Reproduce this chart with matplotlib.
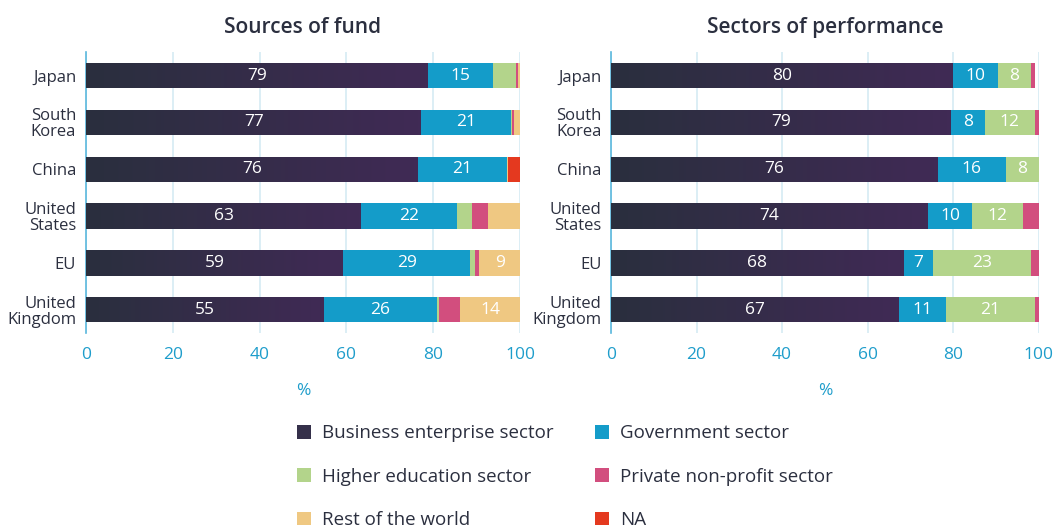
import numpy as np
import matplotlib
matplotlib.use('Agg')
import matplotlib.pyplot as plt
from matplotlib.colors import LinearSegmentedColormap
from matplotlib.patches import Patch

plt.rcParams['font.family'] = ['Open Sans', 'DejaVu Sans']

countries = ['Japan', 'South\nKorea', 'China', 'United\nStates', 'EU', 'United\nKingdom']
sectors = ['Business enterprise sector', 'Government sector', 'Higher education sector',
           'Private non-profit sector', 'Rest of the world', 'NA']

# sources of fund (%)
fund_business = [78.8, 77.3, 76.4, 63.4, 59.3, 54.8]
fund_government = [15.0, 20.7, 20.6, 22.1, 29.2, 26.1]
fund_higher = [5.3, 0.2, 0.0, 3.4, 1.2, 0.5]
fund_private = [0.4, 0.4, 0.0, 3.7, 0.9, 4.8]
fund_abroad = [0.5, 1.4, 0.2, 7.4, 9.4, 13.8]
fund_na = [0.0, 0.0, 2.8, 0.0, 0.0, 0.0]

# sectors of performance (%)
perf_business = [80.0, 79.4, 76.4, 74.2, 68.4, 67.3]
perf_government = [10.4, 8.0, 15.9, 10.1, 6.9, 11.0]
perf_higher = [7.8, 11.7, 7.7, 12.0, 23.0, 20.8]
perf_private = [0.9, 0.9, 0.0, 3.7, 1.7, 0.9]

colors = ['#35304a', '#149cc9', '#b3d48b', '#d24e7e', '#efc882', '#e4391f']
grad = LinearSegmentedColormap.from_list('biz', ['#2a2f3e', '#402a55'])
text_dark = '#2b2f3f'
axis_blue = '#1e9dcb'


def draw_panel(ax, series, title, min_label):
    y = np.arange(len(countries))
    left = np.zeros(len(countries))
    for i, vals in enumerate(series):
        vals = np.array(vals, dtype=float)
        bars = ax.barh(y, vals, left=left, height=0.54, color=colors[i], zorder=3)
        if i == 0:
            # business bars have a left-to-right colour gradient
            for b in bars:
                b.set_facecolor('none')
                x0, y0 = b.get_x(), b.get_y()
                w, h = b.get_width(), b.get_height()
                im = ax.imshow(np.linspace(0, 1, 64).reshape(1, -1), cmap=grad, aspect='auto',
                               extent=(x0, x0 + w, y0, y0 + h), zorder=3, interpolation='bilinear')
                im.set_clip_path(b)
        labels = [f'{v:.0f}' if v >= min_label else '' for v in vals]
        ax.bar_label(bars, labels=labels, label_type='center', color='white', fontsize=12.5,
                     fontweight='medium')
        left += vals
    ax.set_xlim(0, 100)
    ax.set_ylim(len(countries) - 0.5, -0.5)
    ax.set_yticks(y)
    ax.set_yticklabels(countries, fontsize=12, color=text_dark, linespacing=1.0,
                       fontweight='medium')
    ax.set_xticks(range(0, 101, 20))
    ax.tick_params(axis='x', colors=axis_blue, labelsize=12.5, length=0, pad=10)
    ax.tick_params(axis='y', length=0, pad=7)
    ax.grid(axis='x', color='#d5ebf3', linewidth=1.2, zorder=0)
    for s in ['top', 'right', 'bottom']:
        ax.spines[s].set_visible(False)
    ax.spines['left'].set_color('#5bb8dd')
    ax.spines['left'].set_linewidth(1.2)
    ax.set_xlabel('%', color=axis_blue, fontsize=12.5, labelpad=14)
    ax.set_title(title, fontsize=15, fontweight='semibold', color=text_dark, pad=14)


fig = plt.figure(figsize=(10.56, 5.28), dpi=100)
ax1 = fig.add_axes([0.0814, 0.369, 0.411, 0.532])
ax2 = fig.add_axes([0.5786, 0.369, 0.405, 0.532])

draw_panel(ax1, [fund_business, fund_government, fund_higher, fund_private, fund_abroad, fund_na],
           'Sources of fund', 8)
draw_panel(ax2, [perf_business, perf_government, perf_higher, perf_private],
           'Sectors of performance', 6.5)

handles = [Patch(facecolor=c, edgecolor='none') for c in colors]
order = [0, 2, 4, 1, 3, 5]
fig.legend([handles[i] for i in order], [sectors[i] for i in order], ncol=2, loc='upper center',
           bbox_to_anchor=(0.535, 0.228), frameon=False, labelcolor=text_dark,
           prop={'weight': 'medium', 'size': 13.5},
           handlelength=0.75, handleheight=0.75, handletextpad=0.6, labelspacing=1.35,
           columnspacing=2.2)

fig.savefig('out.png', dpi=100)
